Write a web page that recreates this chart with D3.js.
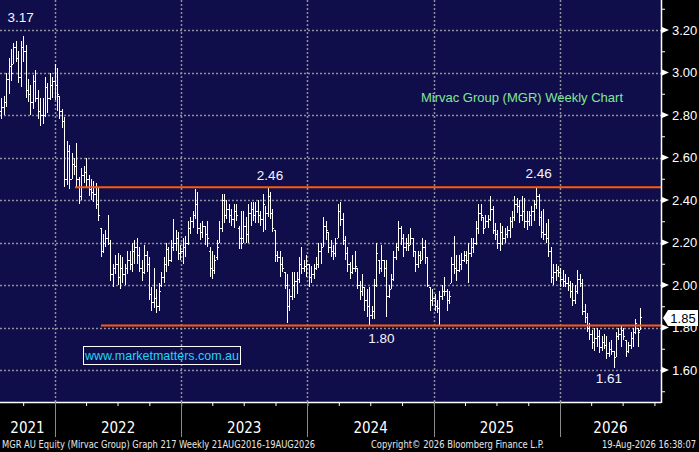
<!DOCTYPE html>
<html>
<head>
<meta charset="utf-8">
<script src="https://cdn.jsdelivr.net/npm/d3@7"></script>
<style>
  html, body { margin: 0; padding: 0; background: #000; }
  svg { display: block; }
</style>
</head>
<body>
<div id="chart"></div>
<script>
// weekly OHLC (one value per week, Friday close)
const highs = [
  2.88,2.89,3.00,3.07,3.11,3.14,3.15,3.10,3.15,3.17,
  3.13,2.97,2.94,2.99,3.01,2.92,2.88,2.88,2.98,2.95,
  3.00,2.98,3.04,3.02,2.89,2.83,2.79,2.68,2.66,2.62,
  2.60,2.67,2.51,2.55,2.56,2.60,2.52,2.50,2.49,2.48,
  2.46,2.27,2.24,2.26,2.33,2.21,2.10,2.14,2.15,2.14,
  2.13,2.10,2.16,2.16,2.20,2.21,2.22,2.18,2.12,2.19,
  2.16,2.13,1.99,2.08,1.98,2.01,2.06,2.13,2.20,2.18,
  2.21,2.31,2.26,2.25,2.19,2.22,2.23,2.30,2.32,2.35,
  2.45,2.44,2.29,2.30,2.28,2.30,2.18,2.16,2.14,2.21,
  2.30,2.43,2.43,2.40,2.38,2.36,2.38,2.38,2.28,2.35,
  2.35,2.32,2.38,2.39,2.39,2.39,2.40,2.35,2.43,2.37,
  2.46,2.44,2.36,2.26,2.16,2.16,2.13,2.06,2.05,1.98,
  2.06,2.06,2.06,2.13,2.18,2.12,2.14,2.10,2.09,2.10,
  2.13,2.20,2.20,2.32,2.30,2.25,2.21,2.19,2.22,2.38,
  2.39,2.34,2.23,2.18,2.11,2.14,2.16,2.08,2.02,2.05,
  1.99,1.98,1.99,1.90,2.03,2.20,2.12,2.19,2.12,2.12,
  2.00,2.05,2.16,2.20,2.30,2.28,2.24,2.22,2.24,2.27,
  2.22,2.16,2.16,2.16,2.22,2.21,2.13,1.99,1.98,1.96,
  1.93,1.97,2.00,2.04,1.98,1.97,2.13,2.23,2.14,2.14,
  2.15,2.16,2.16,2.20,2.22,2.22,2.30,2.38,2.38,2.32,
  2.33,2.33,2.42,2.37,2.29,2.26,2.29,2.28,2.27,2.28,
  2.32,2.35,2.42,2.41,2.40,2.42,2.41,2.35,2.35,2.37,
  2.40,2.46,2.43,2.35,2.36,2.29,2.31,2.18,2.10,2.10,
  2.09,2.08,2.07,2.05,2.04,2.02,2.01,2.00,2.07,2.05,
  2.03,1.91,1.87,1.82,1.79,1.80,1.80,1.79,1.76,1.77,
  1.76,1.73,1.74,1.69,1.78,1.80,1.81,1.80,1.74,1.73,
  1.78,1.80,1.84,1.80,1.89
];
const lows = [
  2.78,2.80,2.84,2.90,2.96,3.04,3.05,2.95,2.93,3.05,
  2.88,2.86,2.80,2.83,2.86,2.78,2.75,2.76,2.79,2.81,
  2.87,2.88,2.87,2.82,2.78,2.74,2.46,2.47,2.45,2.50,
  2.52,2.46,2.38,2.40,2.48,2.46,2.42,2.40,2.39,2.36,
  2.30,2.13,2.15,2.18,2.19,2.02,1.99,2.05,2.00,1.98,
  2.01,2.00,2.05,2.07,2.06,2.10,2.10,2.06,2.02,2.05,
  2.06,1.93,1.88,1.89,1.87,1.88,1.99,2.01,2.06,2.09,
  2.11,2.16,2.16,2.12,2.12,2.10,2.13,2.19,2.24,2.27,
  2.31,2.24,2.21,2.22,2.19,2.18,2.04,2.03,2.05,2.12,
  2.20,2.25,2.29,2.31,2.29,2.28,2.27,2.30,2.17,2.17,
  2.20,2.20,2.20,2.28,2.30,2.29,2.29,2.28,2.25,2.26,
  2.32,2.31,2.25,2.11,2.11,2.04,2.06,1.98,1.82,1.88,
  1.93,1.94,1.96,2.01,2.05,2.06,2.04,1.99,2.01,2.03,
  2.07,2.08,2.10,2.18,2.21,2.15,2.13,2.12,2.13,2.22,
  2.28,2.19,2.12,2.06,2.03,2.05,2.06,1.98,1.93,1.95,
  1.88,1.85,1.81,1.84,1.84,1.99,2.05,2.06,2.04,1.85,
  1.94,1.98,2.02,2.12,2.16,2.19,2.13,2.16,2.16,2.19,
  2.13,2.06,2.08,2.10,2.12,2.10,1.99,1.88,1.90,1.88,
  1.87,1.81,1.93,1.95,1.88,1.91,2.01,2.05,2.02,2.06,
  2.07,2.11,2.10,2.01,2.13,2.15,2.19,2.24,2.30,2.24,
  2.27,2.27,2.30,2.24,2.21,2.17,2.16,2.19,2.20,2.22,
  2.22,2.27,2.30,2.34,2.29,2.30,2.27,2.26,2.28,2.28,
  2.30,2.36,2.28,2.22,2.21,2.20,2.13,2.01,2.00,2.02,
  2.04,1.99,1.99,1.99,1.97,1.94,1.90,1.91,1.96,1.99,
  1.86,1.82,1.78,1.74,1.70,1.69,1.71,1.68,1.69,1.70,
  1.65,1.66,1.67,1.61,1.66,1.74,1.71,1.74,1.66,1.68,
  1.70,1.71,1.77,1.71,1.79
];
const opens = [
  2.82,2.84,2.86,2.97,3.03,3.04,3.12,3.07,2.98,3.12,
  3.10,2.92,2.90,2.86,2.96,2.88,2.82,2.80,2.80,2.93,
  2.88,2.94,2.96,2.94,2.89,2.82,2.77,2.50,2.63,2.50,
  2.57,2.56,2.50,2.42,2.52,2.53,2.50,2.45,2.44,2.43,
  2.38,2.27,2.16,2.20,2.22,2.20,2.05,2.08,2.10,2.04,
  2.08,2.05,2.08,2.12,2.10,2.16,2.18,2.14,2.08,2.06,
  2.14,2.10,1.96,1.92,1.94,1.90,2.00,2.04,2.10,2.17,
  2.12,2.18,2.20,2.22,2.15,2.16,2.18,2.20,2.27,2.30,
  2.33,2.38,2.27,2.25,2.28,2.24,2.16,2.08,2.07,2.13,
  2.20,2.27,2.40,2.33,2.36,2.33,2.31,2.35,2.27,2.22,
  2.22,2.28,2.24,2.34,2.36,2.33,2.35,2.33,2.31,2.38,
  2.34,2.42,2.34,2.26,2.14,2.13,2.10,2.06,2.00,1.90,
  1.95,2.00,2.02,2.03,2.10,2.08,2.09,2.10,2.04,2.05,
  2.08,2.10,2.16,2.18,2.28,2.25,2.18,2.16,2.15,2.22,
  2.35,2.31,2.21,2.15,2.10,2.06,2.08,2.08,2.00,1.97,
  1.99,1.93,1.90,1.86,1.88,2.00,2.12,2.08,2.12,2.08,
  1.95,1.98,2.03,2.13,2.18,2.27,2.22,2.18,2.20,2.19,
  2.22,2.16,2.10,2.14,2.12,2.18,2.13,1.99,1.93,1.94,
  1.90,1.89,1.95,1.97,1.97,1.93,2.01,2.10,2.08,2.07,
  2.10,2.12,2.14,2.12,2.15,2.18,2.20,2.27,2.34,2.32,
  2.27,2.30,2.31,2.36,2.26,2.24,2.20,2.25,2.22,2.24,
  2.26,2.30,2.32,2.38,2.37,2.33,2.35,2.30,2.30,2.33,
  2.35,2.38,2.42,2.32,2.25,2.24,2.22,2.16,2.04,2.06,
  2.07,2.06,2.03,2.02,2.01,2.00,1.97,1.93,1.97,2.03,
  2.01,1.88,1.85,1.80,1.77,1.73,1.75,1.76,1.71,1.73,
  1.72,1.68,1.70,1.69,1.66,1.76,1.77,1.79,1.74,1.69,
  1.72,1.75,1.78,1.80,1.79
];
const closes = [
  2.84,2.86,2.97,3.03,3.00,3.12,3.07,2.98,3.12,3.10,
  2.92,2.90,2.86,2.96,2.88,2.82,2.80,2.80,2.93,2.88,
  2.94,2.96,2.94,2.90,2.82,2.77,2.50,2.63,2.50,2.57,
  2.56,2.50,2.42,2.52,2.53,2.50,2.45,2.44,2.43,2.38,
  2.33,2.16,2.20,2.22,2.20,2.05,2.08,2.10,2.04,2.08,
  2.05,2.08,2.12,2.10,2.16,2.18,2.14,2.08,2.06,2.14,
  2.10,1.96,1.92,1.94,1.90,1.97,2.04,2.10,2.17,2.12,
  2.18,2.20,2.22,2.15,2.16,2.18,2.20,2.27,2.30,2.33,
  2.38,2.27,2.25,2.28,2.24,2.22,2.08,2.07,2.12,2.18,
  2.27,2.40,2.33,2.36,2.33,2.31,2.35,2.33,2.22,2.20,
  2.28,2.24,2.34,2.36,2.33,2.35,2.33,2.31,2.38,2.34,
  2.42,2.34,2.27,2.14,2.13,2.10,2.08,2.00,1.90,1.95,
  2.00,2.02,2.03,2.10,2.08,2.09,2.10,2.04,2.05,2.08,
  2.10,2.16,2.18,2.28,2.26,2.18,2.16,2.15,2.20,2.35,
  2.31,2.21,2.15,2.10,2.06,2.08,2.09,2.00,1.97,1.99,
  1.93,1.90,1.86,1.88,2.00,2.15,2.08,2.12,2.08,1.95,
  1.98,2.03,2.13,2.18,2.27,2.22,2.18,2.20,2.19,2.22,
  2.16,2.10,2.14,2.12,2.18,2.13,2.00,1.93,1.94,1.90,
  1.89,1.95,1.97,1.97,1.93,1.95,2.10,2.08,2.07,2.10,
  2.12,2.14,2.12,2.15,2.18,2.20,2.27,2.34,2.33,2.27,
  2.30,2.31,2.36,2.26,2.24,2.20,2.25,2.22,2.24,2.26,
  2.30,2.32,2.38,2.37,2.33,2.35,2.30,2.30,2.33,2.35,
  2.38,2.42,2.32,2.25,2.24,2.22,2.16,2.04,2.06,2.07,
  2.06,2.03,2.02,2.01,2.00,1.97,1.93,1.97,2.03,2.01,
  1.88,1.85,1.80,1.77,1.73,1.75,1.76,1.71,1.73,1.72,
  1.68,1.70,1.69,1.66,1.76,1.77,1.79,1.76,1.69,1.72,
  1.75,1.78,1.82,1.78,1.85
];
// one bar per week, Fridays from 30 Jul 2021 to 21 Aug 2026
const weeks = d3.timeFriday.range(new Date(2021, 6, 30), new Date(2026, 7, 22));

const yMajorTicks = [1.6, 1.8, 2.0, 2.2, 2.4, 2.6, 2.8, 3.0, 3.2];
const yMinorTicks = [1.5, 1.7, 1.9, 2.1, 2.3, 2.5, 2.7, 2.9, 3.1, 3.3];
const years = [2021, 2022, 2023, 2024, 2025, 2026];

const resistance = { value: 2.46, from: new Date(2022, 1, 28) };
const support = { value: 1.81, from: new Date(2022, 4, 14) };

const noteTexts = ["3.17", "2.46", "2.46", "1.80", "1.61"];
const noteValues = [3.17, 2.46, 2.46, 1.80, 1.61];
const noteDates = [new Date(2021, 8, 24), new Date(2023, 8, 15), new Date(2025, 9, 31), new Date(2024, 7, 2), new Date(2026, 4, 22)];

const chartTitle = "Mirvac Group (MGR) Weekly Chart";
const watermark = "www.marketmatters.com.au";
const footerLeft = "MGR AU Equity (Mirvac Group) Graph 217 Weekly 21AUG2016-19AUG2026";
const footerMid = "Copyright\u00A9 2026 Bloomberg Finance L.P.";
const footerRight = "19-Aug-2026 16:38:07";

/////////////////////////////////////////////////////////
//////////////////// Layout & scales ////////////////////
/////////////////////////////////////////////////////////

const W = 699, H = 452;
const plotW = 661, plotH = 402;
const NAVY = "#0f0e4a", GRID = "#8e8e98", ORANGE = "#ff5a0a";
const FONT = "'Liberation Sans', Arial, sans-serif";
const NARROW = "'Liberation Sans Narrow', 'DejaVu Sans Condensed', 'Liberation Sans', sans-serif";

const x = d3.scaleTime()
    .domain([new Date(2021, 6, 26), new Date(2026, 9, 20)])
    .range([0, plotW]);

const y = d3.scaleLinear()
    .domain([1.6, 3.2])
    .range([370, 30]);

const svg = d3.select("#chart").append("svg")
    .attr("width", W)
    .attr("height", H);

svg.append("rect").attr("width", W).attr("height", H).attr("fill", "#000");
svg.append("rect").attr("width", plotW).attr("height", plotH).attr("fill", NAVY);

// dotted grid
const grid = svg.append("g")
    .attr("stroke", GRID)
    .attr("stroke-width", 1.5)
    .attr("stroke-dasharray", "2,2");

grid.selectAll(".hgrid")
    .data(yMajorTicks)
    .enter().append("line")
    .attr("x1", 0).attr("x2", plotW)
    .attr("y1", d => Math.round(y(d)) + 0.5)
    .attr("y2", d => Math.round(y(d)) + 0.5);

grid.selectAll(".vgrid")
    .data(years.slice(1))
    .enter().append("line")
    .attr("y1", 0).attr("y2", plotH)
    .attr("x1", d => Math.round(x(new Date(d, 0, 1))) + 0.5)
    .attr("x2", d => Math.round(x(new Date(d, 0, 1))) + 0.5);

// OHLC bars
const n = Math.min(weeks.length, highs.length, lows.length, opens.length, closes.length);
const bars = d3.range(n).map(i => ({ date: weeks[i], o: opens[i], h: highs[i], l: lows[i], c: closes[i] }));

const bar = svg.append("g")
    .attr("fill", "#ffffff")
    .attr("shape-rendering", "crispEdges")
    .selectAll(".bar")
    .data(bars)
    .enter().append("g")
    .attr("class", "bar")
    .attr("transform", d => "translate(" + Math.round(x(d.date)) + ",0)");

bar.append("rect")
    .attr("x", 0).attr("width", 1)
    .attr("y", d => Math.round(y(d.h)))
    .attr("height", d => Math.max(1, Math.round(y(d.l)) - Math.round(y(d.h))));

bar.append("rect")
    .attr("x", -1).attr("width", 1).attr("height", 1)
    .attr("y", d => Math.round(y(d.o)));

bar.append("rect")
    .attr("x", 1).attr("width", 1).attr("height", 1)
    .attr("y", d => Math.round(y(d.c)));

// resistance / support
[resistance, support].forEach(lv => {
    svg.append("line")
        .attr("x1", x(lv.from)).attr("x2", plotW)
        .attr("y1", y(lv.value)).attr("y2", y(lv.value))
        .attr("stroke", ORANGE)
        .attr("stroke-width", 2);
});

// price notes
const noteOffsets = [-14, -7, -9, 15, 15];
svg.append("g").selectAll("text")
    .data(noteTexts)
    .enter().append("text")
    .attr("x", (d, i) => x(noteDates[i]))
    .attr("y", (d, i) => y(noteValues[i]) + noteOffsets[i])
    .attr("text-anchor", "middle")
    .attr("font-family", FONT)
    .attr("font-size", 13.5)
    .attr("fill", "#f4f4ff")
    .text(d => d);

// title
svg.append("text")
    .attr("x", 522).attr("y", 102)
    .attr("text-anchor", "middle")
    .attr("font-family", FONT)
    .attr("font-size", 13)
    .attr("fill", "#82e695")
    .text(chartTitle);

// watermark
svg.append("rect")
    .attr("x", 83.5).attr("y", 346.5)
    .attr("width", 157).attr("height", 18)
    .attr("fill", "none")
    .attr("stroke", "#ffffff")
    .attr("stroke-width", 1);
svg.append("text")
    .attr("x", 162).attr("y", 360)
    .attr("text-anchor", "middle")
    .attr("font-family", FONT)
    .attr("font-size", 13)
    .attr("fill", "#22d4f2")
    .attr("textLength", 154)
    .attr("lengthAdjust", "spacingAndGlyphs")
    .text(watermark);

/////////////////////////////////////////////////////////
//////////////////////// Axes ///////////////////////////
/////////////////////////////////////////////////////////

// right price axis
const yAxis = svg.append("g")
    .attr("transform", "translate(" + plotW + ",0)");

yAxis.call(d3.axisRight(y)
        .tickValues(yMajorTicks)
        .tickSize(0)
        .tickPadding(11)
        .tickFormat(d3.format(".2f")))
    .call(g => g.select(".domain").remove())
    .call(g => g.selectAll("text")
        .attr("fill", "#ffffff")
        .attr("font-family", FONT)
        .attr("font-size", 13));

yAxis.append("g")
    .call(d3.axisRight(y).tickValues(yMinorTicks).tickSize(4).tickFormat(""))
    .call(g => g.select(".domain").remove())
    .call(g => g.selectAll("line").attr("stroke", "#ffffff"));

yAxis.selectAll(".arrow")
    .data(yMajorTicks)
    .enter().append("path")
    .attr("class", "arrow")
    .attr("d", d => "M1," + (y(d) - 3) + "L8," + y(d) + "L1," + (y(d) + 3) + "Z")
    .attr("fill", "#ffffff");

svg.append("line")
    .attr("x1", plotW + 0.5).attr("x2", plotW + 0.5)
    .attr("y1", 0).attr("y2", plotH + 1)
    .attr("stroke", "#ffffff").attr("stroke-width", 1.5);

// last price flag
const last = bars[bars.length - 1];
const ly = y(last.c);
svg.append("path")
    .attr("d", "M663," + (ly + 1) + "L668," + (ly - 7) + "L698," + (ly - 7) + "L698," + (ly + 9) + "L668," + (ly + 9) + "Z")
    .attr("fill", "#ffffff");
svg.append("text")
    .attr("x", 683).attr("y", ly + 6)
    .attr("text-anchor", "middle")
    .attr("font-family", FONT)
    .attr("font-size", 13)
    .attr("fill", "#000000")
    .text(d3.format(".2f")(last.c));

// bottom time axis
const quarters = d3.timeMonth.every(3).range(new Date(2021, 9, 1), new Date(2026, 9, 20));
svg.append("g")
    .attr("transform", "translate(0," + plotH + ")")
    .call(d3.axisBottom(x).tickValues(quarters).tickSize(4).tickFormat(""))
    .call(g => g.select(".domain").remove())
    .call(g => g.selectAll("line").attr("stroke", "#ffffff"));

svg.append("line")
    .attr("x1", 0).attr("x2", plotW)
    .attr("y1", plotH + 0.5).attr("y2", plotH + 0.5)
    .attr("stroke", "#ffffff").attr("stroke-width", 1.5);

svg.append("g").selectAll("line")
    .data(years.slice(1))
    .enter().append("line")
    .attr("x1", d => Math.round(x(new Date(d, 0, 1))) + 0.5)
    .attr("x2", d => Math.round(x(new Date(d, 0, 1))) + 0.5)
    .attr("y1", plotH).attr("y2", 437)
    .attr("stroke", "#8a8a8a");

svg.append("g").selectAll("text")
    .data(years)
    .enter().append("text")
    .attr("x", d => (Math.max(0, x(new Date(d, 0, 1))) + Math.min(plotW, x(new Date(d + 1, 0, 1)))) / 2)
    .attr("y", 433)
    .attr("text-anchor", "middle")
    .attr("font-family", NARROW)
    .attr("font-size", 15)
    .attr("fill", "#ffffff")
    .text(d => d);

// footer
[[footerLeft, 2, 313], [footerMid, 371, 173], [footerRight, 602, 94]].forEach(f => {
    svg.append("text")
        .attr("x", f[1]).attr("y", 448)
        .attr("font-family", NARROW)
        .attr("font-size", 10.5)
        .attr("fill", "#e6e6e6")
        .attr("textLength", f[2])
        .attr("lengthAdjust", "spacingAndGlyphs")
        .text(f[0]);
});
</script>
</body>
</html>
